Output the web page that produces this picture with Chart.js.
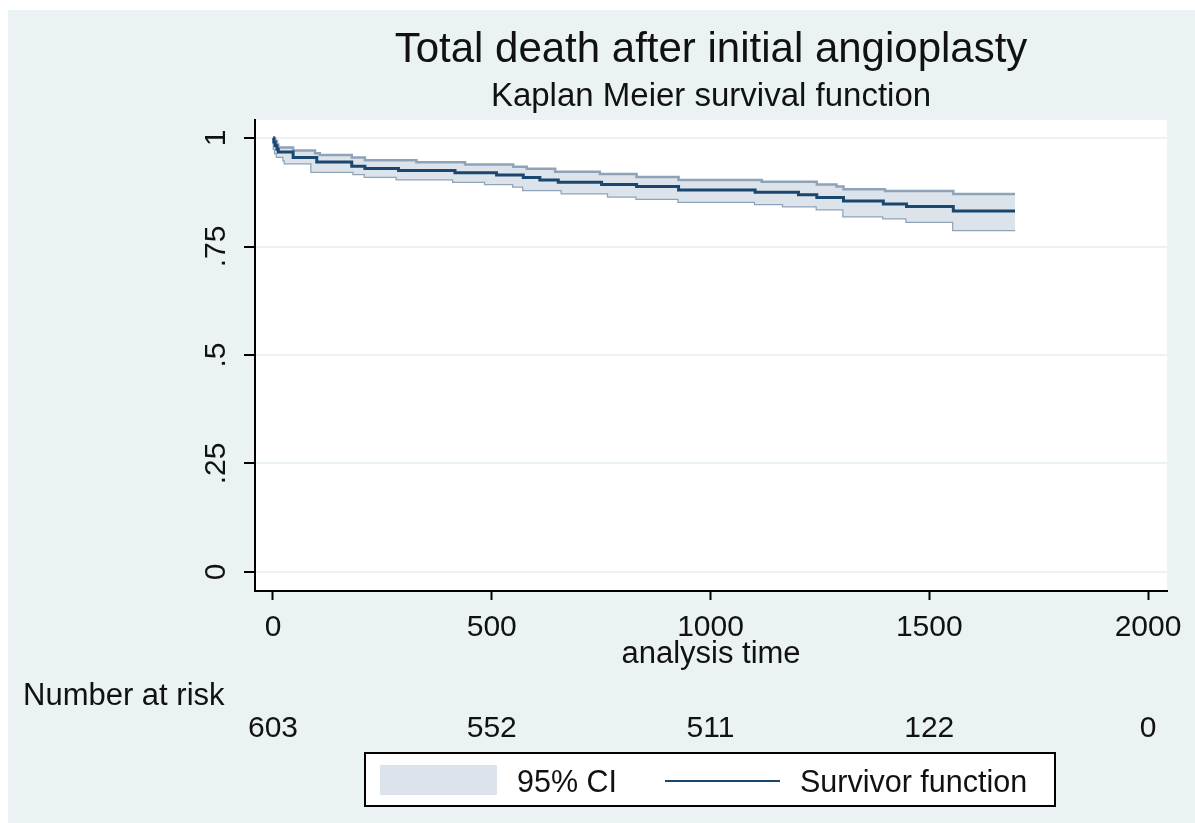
<!DOCTYPE html>
<html>
<head>
<meta charset="utf-8">
<script src="https://cdn.jsdelivr.net/npm/chart.js@4.4.1/dist/chart.umd.min.js"></script>
<style>
  html, body { margin: 0; padding: 0; background: #ffffff; }
  canvas { display: block; }
</style>
</head>
<body>
<canvas id="c" width="1195" height="823"></canvas>
<script>
// ---- Data ----
const kmTime  = [0, 2, 5, 9, 12, 46, 100, 180, 210, 287, 416, 511, 572, 610, 652, 751, 831, 927, 1102, 1201, 1243, 1304, 1395, 1448, 1555, 1696];
const kmSurv  = [1, 0.991, 0.982, 0.974, 0.968, 0.955, 0.945, 0.935, 0.930, 0.925, 0.920, 0.915, 0.909, 0.903, 0.898, 0.893, 0.888, 0.880, 0.875, 0.869, 0.863, 0.855, 0.848, 0.842, 0.832, 0.832];

const ciUpTime = [0, 2, 5, 9, 12, 46, 96, 107, 180, 210, 328, 439, 549, 580, 645, 747, 831, 927, 1117, 1243, 1288, 1304, 1399, 1555, 1696];
const ciUpVal  = [1, 0.998, 0.993, 0.985, 0.978, 0.971, 0.965, 0.961, 0.955, 0.949, 0.944, 0.939, 0.934, 0.929, 0.922, 0.917, 0.910, 0.903, 0.899, 0.893, 0.888, 0.882, 0.878, 0.871, 0.871];

const ciLoTime = [0, 2, 5, 9, 24, 27, 88, 184, 210, 283, 412, 485, 549, 572, 660, 766, 831, 927, 1102, 1166, 1243, 1304, 1395, 1448, 1555, 1696];
const ciLoVal  = [1, 0.975, 0.965, 0.957, 0.949, 0.942, 0.922, 0.917, 0.911, 0.905, 0.899, 0.894, 0.888, 0.880, 0.873, 0.865, 0.860, 0.853, 0.848, 0.843, 0.836, 0.820, 0.815, 0.807, 0.788, 0.788];

const xTickValues = [0, 500, 1000, 1500, 2000];
const xTickLabels = ['0', '500', '1000', '1500', '2000'];
const yTickValues = [0, 0.25, 0.5, 0.75, 1];
const yTickLabels = ['0', '.25', '.5', '.75', '1'];
const atRisk      = ['603', '552', '511', '122', '0'];

const titleText    = 'Total death after initial angioplasty';
const subtitleText = 'Kaplan Meier survival function';
const xTitleText   = 'analysis time';
const riskTitle    = 'Number at risk';
const legendCI     = '95% CI';
const legendKM     = 'Survivor function';

// ---- Styles ----
const BG = '#eaf2f3';
const NAVY = '#1a476f';
const CI_FILL = '#dde3ea';
const CI_EDGE = '#8fa3b8';
const TXT = '#111111';
const FONT = '"Liberation Sans", Arial, "DejaVu Sans", sans-serif';

const toXY = (xs, ys) => xs.map((x, i) => ({ x: x, y: ys[i] }));

function txt(ctx, s, x, y, size, align, sx) {
  ctx.save();
  ctx.font = size + 'px ' + FONT;
  ctx.fillStyle = TXT;
  ctx.textAlign = align || 'center';
  ctx.textBaseline = 'alphabetic';
  ctx.translate(x, y);
  ctx.scale(sx || 1, 1);
  ctx.fillText(s, 0, 0);
  ctx.restore();
}

const decor = {
  id: 'decor',
  beforeDraw(chart) {
    const ctx = chart.ctx, a = chart.chartArea;
    ctx.save();
    ctx.fillStyle = '#ffffff';
    ctx.fillRect(0, 0, chart.width, chart.height);
    ctx.fillStyle = BG;
    ctx.fillRect(8, 10, chart.width - 8, chart.height - 10);
    ctx.fillStyle = '#ffffff';
    ctx.fillRect(a.left, a.top, a.right - a.left, a.bottom - a.top);
    ctx.restore();
  },
  afterDraw(chart) {
    const ctx = chart.ctx, a = chart.chartArea;
    const xs = chart.scales.x, ys = chart.scales.y;
    const cx = (a.left + a.right) / 2;
    // titles
    txt(ctx, titleText, cx, 62, 42, 'center');
    txt(ctx, subtitleText, cx, 106, 33, 'center');
    // y tick labels (rotated)
    yTickValues.forEach((v, i) => {
      const py = ys.getPixelForValue(v);
      ctx.save();
      ctx.translate(225, py);
      ctx.rotate(-Math.PI / 2);
      ctx.font = '30px ' + FONT;
      ctx.fillStyle = TXT;
      ctx.textAlign = 'center';
      ctx.textBaseline = 'alphabetic';
      ctx.fillText(yTickLabels[i], 0, 0);
      ctx.restore();
    });
    // x tick labels
    xTickValues.forEach((v, i) => {
      txt(ctx, xTickLabels[i], xs.getPixelForValue(v), 636, 30, 'center');
    });
    txt(ctx, xTitleText, cx, 663, 31, 'center');
    // number at risk
    txt(ctx, riskTitle, 23, 705, 31, 'left');
    xTickValues.forEach((v, i) => {
      txt(ctx, atRisk[i], xs.getPixelForValue(v), 737, 30, 'center');
    });
    // legend
    ctx.save();
    ctx.fillStyle = '#ffffff';
    ctx.fillRect(365, 753, 690, 53);
    ctx.strokeStyle = '#000000';
    ctx.lineWidth = 2;
    ctx.strokeRect(365, 753, 690, 53);
    ctx.fillStyle = CI_FILL;
    ctx.fillRect(380, 765, 117, 30);
    ctx.strokeStyle = NAVY;
    ctx.lineWidth = 2;
    ctx.beginPath();
    ctx.moveTo(665, 781);
    ctx.lineTo(780, 781);
    ctx.stroke();
    ctx.restore();
    txt(ctx, legendCI, 517, 792, 30.5, 'left');
    txt(ctx, legendKM, 800, 792, 30.5, 'left');
  }
};

const chart = new Chart(document.getElementById('c'), {
  type: 'line',
  data: {
    datasets: [
      {
        label: legendKM,
        data: toXY(kmTime, kmSurv),
        borderColor: NAVY,
        borderWidth: 3,
        stepped: 'before',
        pointRadius: 0,
        fill: false
      },
      {
        label: 'upper',
        data: toXY(ciUpTime, ciUpVal),
        borderColor: CI_EDGE,
        borderWidth: 2.5,
        backgroundColor: CI_FILL,
        stepped: 'before',
        pointRadius: 0,
        fill: '+1'
      },
      {
        label: 'lower',
        data: toXY(ciLoTime, ciLoVal),
        borderColor: CI_EDGE,
        borderWidth: 2.5,
        stepped: 'before',
        pointRadius: 0,
        fill: false
      }
    ]
  },
  options: {
    responsive: false,
    animation: false,
    devicePixelRatio: 1,
    layout: { padding: { left: 244, top: 120, right: 28, bottom: 223 } },
    plugins: {
      legend: { display: false },
      title: { display: false },
      tooltip: { enabled: false }
    },
    scales: {
      x: {
        type: 'linear',
        min: -41.14,
        max: 2043.4,
        afterBuildTicks: (s) => { s.ticks = xTickValues.map(v => ({ value: v })); },
        ticks: { display: false },
        grid: { drawOnChartArea: false, drawTicks: true, tickLength: 9, tickColor: '#000', tickWidth: 2 },
        border: { display: true, color: '#000', width: 2 }
      },
      y: {
        type: 'linear',
        min: -0.0438,
        max: 1.0415,
        afterBuildTicks: (s) => { s.ticks = yTickValues.map(v => ({ value: v })); },
        ticks: { display: false },
        grid: { color: BG, lineWidth: 2, drawTicks: true, tickLength: 11, tickColor: '#000', tickWidth: 2 },
        border: { display: true, color: '#000', width: 2 }
      }
    }
  },
  plugins: [decor]
});
</script>
</body>
</html>
